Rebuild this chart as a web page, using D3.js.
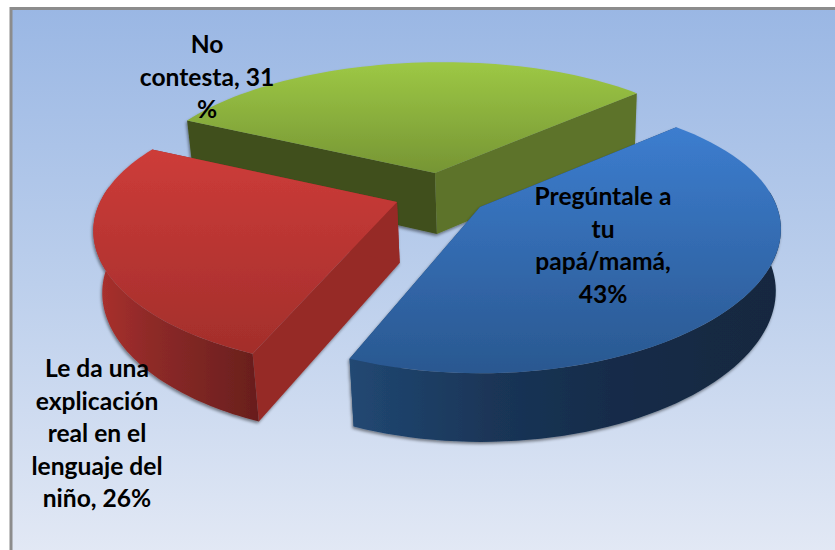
<!DOCTYPE html>
<html>
<head>
<meta charset="utf-8">
<script src="https://cdn.jsdelivr.net/npm/d3@7/dist/d3.min.js"></script>
<style>html,body{margin:0;padding:0;background:#fff;overflow:hidden}svg{display:block}</style>
</head>
<body>
<script>
const categories = ["Pregúntale a tu papá/mamá", "Le da una explicación real en el lenguaje del niño", "No contesta"];
const values = [43, 26, 31];
const labelLines = [
  ["Pregúntale a", "tu", "papá/mamá,", "43%"],
  ["Le da una", "explicación", "real en el", "lenguaje del", "niño, 26%"],
  ["No", "contesta, 31", "%"]
];
const topColors = [["#3c7dcf", "#2a5890"], ["#cd3c39", "#a32e2b"], ["#9dc845", "#769534"]];
const wallColors = [["#214873", "#1a3557", "#132a47", "#15283f"], ["#ad312e", "#8f2a28", "#7b2523", "#681e1c"], ["#5c7229", "#5c7229", "#5c7229", "#5c7229"]];
const edgeColors = [["#1f4470", "#1f4470"], ["#962a27", "#962a27"], ["#404f1c", "#5d7329"]];

const W = 835, H = 550;
const apex = [[480, 207], [397, 202], [435, 173]];
const shear = [0, -15, -8];
const labelX = [603, 97, 207];
const labelY = [205, 377, 53];
const lineStep = 32.6;
const R = 297, KY = 133, P = 0.2, PX = 0.8, DEPTH = 61, PZ = 0.5, VANISH_X = 530, VANISH_K = 0.00033;
const START = 47 * Math.PI / 180;

const svg = d3.select("body").append("svg").attr("width", W).attr("height", H);
const defs = svg.append("defs");

const bg = defs.append("linearGradient").attr("id", "bg").attr("x1", 0).attr("y1", 0).attr("x2", 0).attr("y2", 1);
bg.append("stop").attr("offset", 0).attr("stop-color", "#9ab7e4");
bg.append("stop").attr("offset", 0.5).attr("stop-color", "#bccfec");
bg.append("stop").attr("offset", 1).attr("stop-color", "#e3e9f5");

const shadow = defs.append("filter").attr("id", "sh").attr("x", "-10%").attr("y", "-10%").attr("width", "120%").attr("height", "125%");
shadow.append("feDropShadow").attr("dx", -1).attr("dy", 2).attr("stdDeviation", 1.6).attr("flood-color", "#000").attr("flood-opacity", 0.45);

svg.append("rect").attr("x", 11).attr("y", 8.5).attr("width", W + 10).attr("height", H)
  .attr("fill", "url(#bg)").attr("stroke", "#8c8c8c").attr("stroke-width", 3);

const pie = d3.pie().sort(null).startAngle(START).endAngle(START + 2 * Math.PI);
const arcs = pie(values);

const yScale = d3.scaleLinear().domain([0, 1]).range([0, KY]);
const xScale = d3.scaleLinear().domain([0, 1]).range([0, R]);

function project(i, a, r, z) {
  const u = r * Math.sin(a), v = -r * Math.cos(a), s = 1 / (1 - P * v);
  const sx = 1 + PX * (s - 1), sz = 1 + PZ * (s - 1);
  const x = apex[i][0] + xScale(u * sx) + shear[i] * v;
  const zz = z * sz;
  return [x + zz * (VANISH_X - x) * VANISH_K, apex[i][1] + yScale(v * s) + zz];
}
const line = d3.line();
const samples = (a0, a1) => d3.range(0, 61).map(d => a0 + (a1 - a0) * d / 60);

function grad(id, colors, horizontal) {
  const g = defs.append("linearGradient").attr("id", id).attr("x1", 0).attr("y1", 0)
    .attr("x2", horizontal ? 1 : 0).attr("y2", horizontal ? 0 : 1);
  colors.forEach((c, k) => g.append("stop").attr("offset", k / (colors.length - 1)).attr("stop-color", c));
}

[2, 1, 0].forEach(i => {
  const d = arcs[i];
  const g = svg.append("g").attr("filter", "url(#sh)");
  grad("wall" + i, wallColors[i], true);
  grad("top" + i, topColors[i], false);
  // radial cut walls
  [d.startAngle, d.endAngle].forEach((a, k) => {
    const pts = [project(i, a, 0, 0), project(i, a, 1, 0), project(i, a, 1, DEPTH), project(i, a, 0, DEPTH)];
    g.append("path").attr("d", line(pts) + "Z").attr("fill", edgeColors[i][k]);
  });
  // outer wall: only the part of the rim that faces the viewer
  const a0 = Math.max(d.startAngle, Math.PI / 2 - 0.12);
  const a1 = Math.min(d.endAngle, 3 * Math.PI / 2 + 0.12);
  if (a1 > a0) {
    const arcPts = samples(a0, a1);
    const pts = arcPts.map(a => project(i, a, 1, 0)).concat(arcPts.slice().reverse().map(a => project(i, a, 1, DEPTH)));
    g.append("path").attr("d", line(pts) + "Z").attr("fill", "url(#wall" + i + ")");
  }
  // top face
  const rim = samples(d.startAngle, d.endAngle).map(a => project(i, a, 1, 0));
  g.append("path").attr("d", line([project(i, 0, 0, 0)].concat(rim)) + "Z").attr("fill", "url(#top" + i + ")");
});

labelLines.forEach((lines, i) => {
  const t = svg.append("text").attr("text-anchor", "middle")
    .attr("font-family", "Lato, 'Open Sans', sans-serif").attr("font-weight", 700)
    .attr("font-size", 24.6).attr("fill", "#000");
  lines.forEach((s, k) => t.append("tspan").attr("x", labelX[i]).attr("y", labelY[i] + k * lineStep).text(s));
});
</script>
</body>
</html>
